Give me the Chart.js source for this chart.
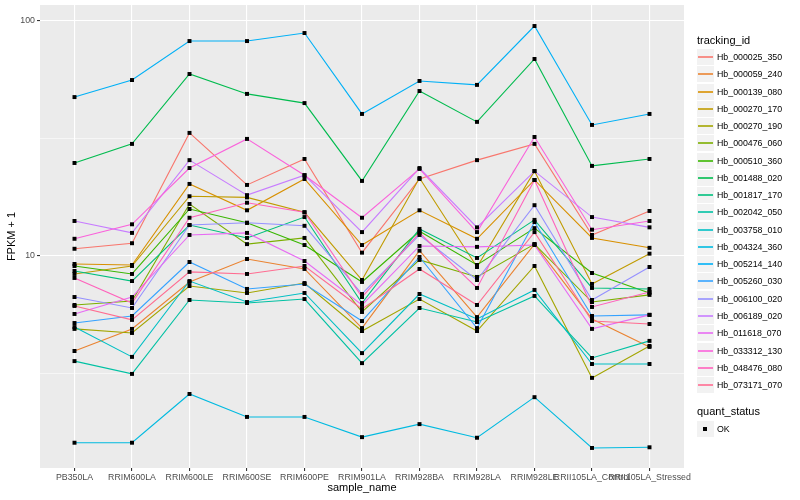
<!DOCTYPE html>
<html>
<head>
<meta charset="utf-8">
<script src="https://cdn.jsdelivr.net/npm/chart.js@4.4.0/dist/chart.umd.min.js"></script>
<style>
  body { margin: 0; background: #fff; font-family: "Liberation Sans", Arial, sans-serif; }
  #wrap { position: relative; width: 800px; height: 500px; overflow: hidden; }
  #chart { position: absolute; left: 0; top: 0; }
  .ltitle { position: absolute; font-size: 11px; color: #000; white-space: nowrap; line-height: 13px; }
  .key { position: absolute; width: 17px; height: 16px; background: #F2F2F2; }
  .key span { position: absolute; left: 1px; right: 1px; top: 7px; height: 2px; opacity: 0.8; }
  .key i { position: absolute; left: 6px; top: 6px; width: 4px; height: 4px; background: #000; }
  .ltext { position: absolute; font-size: 8.8px; color: #000; white-space: nowrap; line-height: 10px; }
</style>
</head>
<body>
<div id="wrap">
  <canvas id="chart" width="800" height="500"></canvas>
  <div id="legend"></div>
</div>
<script>
const samples = ['PB350LA', 'RRIM600LA', 'RRIM600LE', 'RRIM600SE', 'RRIM600PE', 'RRIM901LA',
  'RRIM928BA', 'RRIM928LA', 'RRIM928LE', 'RRII105LA_Control', 'RRII105LA_Stressed'];

const trackingIds = ['Hb_000025_350', 'Hb_000059_240', 'Hb_000139_080', 'Hb_000270_170', 'Hb_000270_190',
  'Hb_000476_060', 'Hb_000510_360', 'Hb_001488_020', 'Hb_001817_170', 'Hb_002042_050',
  'Hb_003758_010', 'Hb_004324_360', 'Hb_005214_140', 'Hb_005260_030', 'Hb_006100_020',
  'Hb_006189_020', 'Hb_011618_070', 'Hb_033312_130', 'Hb_048476_080', 'Hb_073171_070'];

const colors = ['#F8766D', '#EA8331', '#D89000', '#C09B00', '#A3A500', '#7CAE00', '#39B600', '#00BB4E',
  '#00BF7D', '#00C1A3', '#00BFC4', '#00BAE0', '#00B0F6', '#35A2FF', '#9590FF', '#C77CFF',
  '#E76BF3', '#FA62DB', '#FF62BC', '#FF6C91'];

// FPKM + 1, one value per sample
const hb_000025_350 = [10.7, 11.3, 33.3, 20.0, 25.8, 10.3, 21.2, 25.5, 29.9, 12.25, 15.5];
const hb_000059_240 = [3.93, 4.88, 7.73, 9.68, 8.78, 4.92, 10.5, 5.48, 11.2, 5.38, 4.09];
const hb_000139_080 = [9.22, 9.13, 20.2, 15.6, 21.2, 11.1, 15.6, 11.8, 21.0, 11.9, 10.8];
const hb_000270_170 = [8.36, 9.04, 17.9, 17.7, 15.3, 7.88, 21.4, 8.95, 22.9, 7.58, 10.2];
const hb_000270_190 = [4.88, 4.69, 7.43, 6.94, 7.65, 4.78, 6.54, 4.78, 9.04, 3.02, 4.13];
const hb_000476_060 = [6.17, 6.41, 16.6, 11.2, 11.9, 5.76, 9.59, 8.12, 11.2, 6.35, 6.81];
const hb_000510_360 = [9.04, 8.36, 15.8, 13.8, 11.1, 7.73, 12.7, 9.13, 13.1, 8.44, 6.94];
const hb_001488_020 = [24.8, 29.9, 59.3, 48.8, 44.6, 20.8, 50.2, 37.1, 68.7, 24.1, 25.8];
const hb_001817_170 = [8.61, 7.80, 13.5, 11.9, 14.6, 6.29, 13.0, 9.78, 14.2, 7.29, 7.22];
const hb_002042_050 = [3.56, 3.14, 6.48, 6.29, 6.54, 3.49, 5.99, 5.22, 6.74, 3.67, 4.34];
const hb_003758_010 = [4.97, 3.71, 7.80, 6.35, 6.94, 3.85, 6.87, 5.38, 7.15, 3.46, 3.46];
const hb_004324_360 = [1.60, 1.60, 2.58, 2.06, 2.06, 1.69, 1.92, 1.68, 2.50, 1.52, 1.53];
const hb_005214_140 = [47.3, 55.9, 81.9, 81.9, 88.6, 40.1, 55.4, 53.3, 94.9, 36.0, 40.1];
const hb_005260_030 = [5.17, 5.54, 9.40, 7.22, 7.58, 5.27, 9.87, 4.92, 13.9, 5.54, 5.60];
const hb_006100_020 = [6.67, 5.99, 13.5, 13.8, 13.4, 6.87, 12.25, 7.88, 16.4, 6.48, 8.95];
const hb_006189_020 = [14.05, 12.5, 25.5, 18.1, 22.0, 12.6, 23.6, 13.2, 22.9, 14.6, 13.2];
const hb_011618_070 = [5.65, 6.67, 12.25, 12.5, 9.49, 6.17, 11.0, 10.9, 11.1, 4.88, 5.60];
const hb_033312_130 = [11.8, 13.6, 23.6, 31.4, 22.0, 14.5, 23.4, 12.6, 32.0, 12.9, 14.05];
const hb_048476_080 = [8.04, 6.29, 14.5, 16.8, 15.3, 6.67, 12.5, 7.29, 21.0, 6.05, 7.01];
const hb_073171_070 = [6.11, 5.33, 8.53, 8.36, 9.04, 5.93, 8.78, 6.17, 12.6, 5.27, 5.12];

const series = [hb_000025_350, hb_000059_240, hb_000139_080, hb_000270_170, hb_000270_190,
  hb_000476_060, hb_000510_360, hb_001488_020, hb_001817_170, hb_002042_050,
  hb_003758_010, hb_004324_360, hb_005214_140, hb_005260_030, hb_006100_020,
  hb_006189_020, hb_011618_070, hb_033312_130, hb_048476_080, hb_073171_070];

const yTicks = [3.1623, 10, 31.623, 100];
const yLabeled = [10, 100];

const font = '"Liberation Sans", Arial, sans-serif';

const toPoints = vals => vals.map((v, i) => ({ x: i, y: v }));

const datasets = [];
series.forEach((vals, k) => {
  datasets.push({
    label: trackingIds[k],
    data: toPoints(vals),
    borderColor: colors[k],
    borderWidth: 1.1,
    pointRadius: 0,
    tension: 0,
    order: 100 - k
  });
});
series.forEach((vals, k) => {
  datasets.push({
    label: trackingIds[k] + ' OK',
    data: toPoints(vals),
    showLine: false,
    pointStyle: 'rect',
    pointRadius: 2.8,
    pointBackgroundColor: '#000',
    pointBorderWidth: 0,
    order: 0
  });
});

const panelBg = {
  id: 'panelBg',
  beforeDraw(chart) {
    const { ctx, chartArea: a } = chart;
    ctx.save();
    ctx.fillStyle = '#EBEBEB';
    ctx.fillRect(a.left, a.top, a.right - a.left, a.bottom - a.top);
    ctx.restore();
  }
};

const isMajor = c => c.tick && yLabeled.includes(c.tick.value);

new Chart(document.getElementById('chart').getContext('2d'), {
  type: 'line',
  data: { datasets },
  options: {
    responsive: false,
    animation: false,
    layout: { padding: { left: 0, right: 116, top: 5, bottom: 0 } },
    plugins: { legend: { display: false }, tooltip: { enabled: false } },
    scales: {
      x: {
        type: 'linear',
        min: -0.6,
        max: 10.6,
        afterBuildTicks: s => { s.ticks = samples.map((_, i) => ({ value: i })); },
        afterFit: s => { s.height = 32; s.paddingLeft = 0; s.paddingRight = 0; },
        ticks: {
          callback: v => samples[v],
          autoSkip: false,
          maxRotation: 0,
          minRotation: 0,
          color: '#4D4D4D',
          font: { family: font, size: 8.8 },
          padding: 1
        },
        grid: { color: '#FFFFFF', lineWidth: 1.1, tickLength: 3, tickColor: '#333333' },
        border: { display: false },
        title: { display: true, text: 'sample_name', color: '#000', font: { family: font, size: 11 }, padding: { top: 0, bottom: 5 } }
      },
      y: {
        type: 'logarithmic',
        min: 1.249,
        max: 116.6,
        afterBuildTicks: s => { s.ticks = yTicks.map(v => ({ value: v })); },
        afterFit: s => { s.width = 40; s.paddingTop = 0; s.paddingBottom = 0; },
        ticks: {
          callback: v => (yLabeled.includes(v) ? String(v) : ''),
          color: '#4D4D4D',
          font: { family: font, size: 8.8 },
          padding: 2
        },
        grid: {
          color: '#FFFFFF',
          lineWidth: c => (isMajor(c) ? 1.1 : 0.55),
          tickLength: 3,
          tickColor: c => (isMajor(c) ? '#333333' : 'rgba(0,0,0,0)')
        },
        border: { display: false },
        title: { display: true, text: 'FPKM + 1', color: '#000', font: { family: font, size: 11 }, padding: { top: 5, bottom: 0 } }
      }
    }
  },
  plugins: [panelBg]
});

// legend, ggplot style
const legend = document.getElementById('legend');
const keyLeft = 697, textLeft = 717, step = 17.26, firstTop = 49.1;

function addTitle(text, top) {
  const t = document.createElement('div');
  t.className = 'ltitle';
  t.style.left = keyLeft + 'px';
  t.style.top = top + 'px';
  t.textContent = text;
  legend.appendChild(t);
}

function addItem(text, top, inner) {
  top = Math.round(top);
  const k = document.createElement('div');
  k.className = 'key';
  k.style.left = keyLeft + 'px';
  k.style.top = top + 'px';
  k.appendChild(inner);
  legend.appendChild(k);
  const t = document.createElement('div');
  t.className = 'ltext';
  t.style.left = textLeft + 'px';
  t.style.top = (top + 3) + 'px';
  t.textContent = text;
  legend.appendChild(t);
}

addTitle('tracking_id', 34);
trackingIds.forEach((id, k) => {
  const line = document.createElement('span');
  line.style.background = colors[k];
  addItem(id, firstTop + k * step, line);
});

addTitle('quant_status', 405);
addItem('OK', 421, document.createElement('i'));
</script>
</body>
</html>
